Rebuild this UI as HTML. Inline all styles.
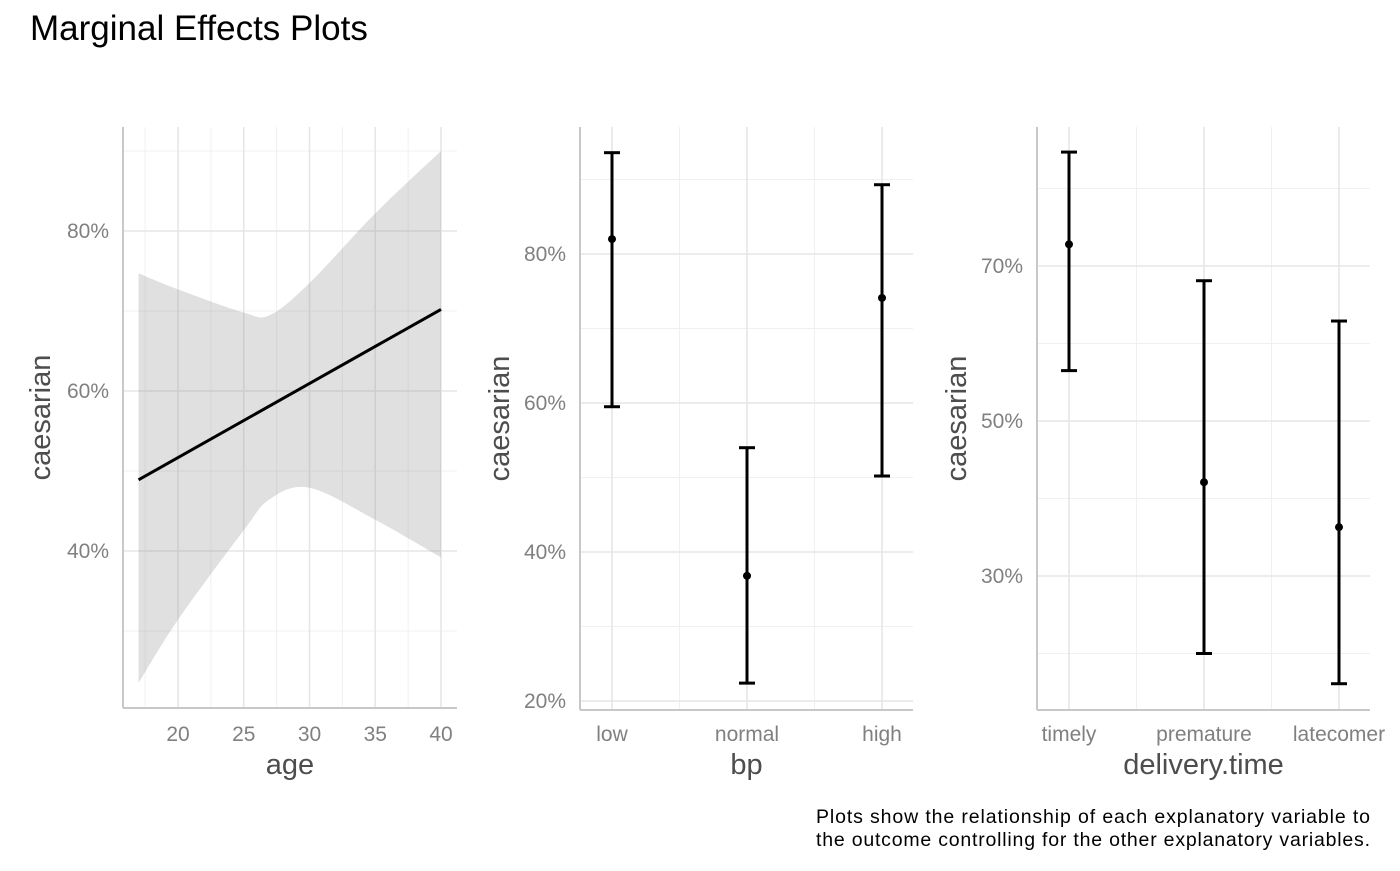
<!DOCTYPE html>
<html><head><meta charset="utf-8"><style>
body{margin:0;background:#fff;font-family:"Liberation Sans",sans-serif}
svg text{font-family:"Liberation Sans",sans-serif}
</style></head><body>
<svg width="1400" height="866" id="fig">
<text x="30" y="40" font-size="35" fill="#000">Marginal Effects Plots</text>
<text x="1370" y="823" font-size="19.5" text-anchor="end" fill="#000" textLength="554">Plots show the relationship of each explanatory variable to</text>
<text x="1370" y="846" font-size="19.5" text-anchor="end" fill="#000" textLength="554">the outcome controlling for the other explanatory variables.</text>
</svg>
<script>
// Panel 1: age (continuous)
const ageX=[17,20,25,27,30,35,40];
const ageUpper=[74.7,72.7,69.8,69.5,73.5,82.2,90.0];
const ageLower=[23.5,31.4,42.6,46.5,47.9,43.9,39.2];
const ageLineX=[17,40];
const ageLineY=[48.9,70.2];
const ageXTicks=[20,25,30,35,40];
const ageYTicks=[40,60,80];
// Panel 2: bp
const bpCats=["low","normal","high"];
const bpFit=[82.0,36.8,74.1];
const bpLow=[59.5,22.4,50.2];
const bpHigh=[93.6,54.0,89.3];
const bpYTicks=[20,40,60,80];
// Panel 3: delivery.time
const dtCats=["timely","premature","latecomer"];
const dtFit=[72.8,42.1,36.3];
const dtLow=[56.5,20.0,16.1];
const dtHigh=[84.7,68.1,62.9];
const dtYTicks=[30,50,70];

const TICK=21, TITLE=29;
const svg=document.getElementById('fig');
const NS='http://www.w3.org/2000/svg';
function mk(tag,attrs,parent){const e=document.createElementNS(NS,tag);for(const k in attrs)e.setAttribute(k,attrs[k]);(parent||svg).appendChild(e);return e;}
function line(x1,y1,x2,y2,stroke,w,p){return mk('line',{x1,y1,x2,y2,stroke,'stroke-width':w},p);}
function txt(x,y,s,size,fill,anchor,p){const t=mk('text',{x,y,'font-size':size,fill,'text-anchor':anchor},p);t.textContent=s;return t;}

// ---- Panel 1
(function(){
  const L=123,R=457,T=127,B=708;
  const xs=v=>178+(v-20)*(441-178)/20;
  const ys=v=>391-(v-60)*8;
  const g=mk('g',{});
  
  
  for(let v=17.5;v<=40;v+=5){line(xs(v),T,xs(v),B,'#f0f0f0',1,g);}
  for(const v of [30,50,70,90]){line(L,ys(v),R,ys(v),'#f0f0f0',1,g);}
  ageXTicks.forEach(v=>{line(xs(v),T,xs(v),B,'#e6e6e6',1.6,g);
    const t=txt(xs(v),741,String(v),TICK,'#808080','middle',g);
    
    });
  ageYTicks.forEach(v=>{line(L,ys(v),R,ys(v),'#e6e6e6',1.6,g);
    const t=txt(L-14,ys(v)+7,v+'%',TICK,'#808080','end',g);
    
    });
  function smooth(arr){let d='M'+arr[0][0]+','+arr[0][1];for(let i=0;i<arr.length-1;i++){const p0=arr[Math.max(0,i-1)],p1=arr[i],p2=arr[i+1],p3=arr[Math.min(arr.length-1,i+2)];
    d+=' C'+(p1[0]+(p2[0]-p0[0])/6)+','+(p1[1]+(p2[1]-p0[1])/6)+' '+(p2[0]-(p3[0]-p1[0])/6)+','+(p2[1]-(p3[1]-p1[1])/6)+' '+p2[0]+','+p2[1];}return d;}
  const up=ageX.map((x,i)=>[xs(x),ys(ageUpper[i])]);
  const lo=ageX.map((x,i)=>[xs(x),ys(ageLower[i])]).reverse();
  const d=smooth(up)+' L'+lo[0][0]+','+lo[0][1]+smooth(lo).replace(/^M[^ ]+/,'')+' Z';
  const band=mk('path',{d,fill:'#999','fill-opacity':0.3,stroke:'none'},g);
  
  
  const fl=line(xs(ageLineX[0]),ys(ageLineY[0]),xs(ageLineX[1]),ys(ageLineY[1]),'#000',3,g);
  
  
  line(L,T,L,B,'#c8c8c8',2,g);line(L,B,R,B,'#c8c8c8',2,g);
  const xt=txt((L+R)/2,774,'age',TITLE,'#4d4d4d','middle',g);
  
  
  const yt=txt(0,0,'caesarian',TITLE,'#4d4d4d','middle',g);
  yt.setAttribute('transform','translate(50,'+((T+B)/2)+') rotate(-90)');
  
  
})();

function catPanel(name,L,R,T,B,cats,fit,lo,hi,yTicks,y0v,y0,pxPer,minorY,xlabel,ytitleX){
  const g=mk('g',{});
  
  
  const step=135, x0=L+32;
  const xs=i=>x0+i*step;
  const ys=v=>y0-(v-y0v)*pxPer;
  for(let i=0;i<cats.length-1;i++)line(xs(i+0.5),T,xs(i+0.5),B,'#f0f0f0',1,g);
  minorY.forEach(v=>line(L,ys(v),R,ys(v),'#f0f0f0',1,g));
  yTicks.forEach(v=>{line(L,ys(v),R,ys(v),'#e6e6e6',1.6,g);
    const t=txt(L-14,ys(v)+7,v+'%',TICK,'#808080','end',g);
    
    });
  cats.forEach((c,i)=>{line(xs(i),T,xs(i),B,'#e6e6e6',1.6,g);
    const t=txt(xs(i),741,c,TICK,'#808080','middle',g);
    
    });
  cats.forEach((c,i)=>{
    const eg=mk('g',{},g);
    
    
    const x=xs(i);
    line(x,ys(hi[i]),x,ys(lo[i]),'#000',3,eg);
    line(x-8,ys(hi[i]),x+8,ys(hi[i]),'#000',3,eg);
    line(x-8,ys(lo[i]),x+8,ys(lo[i]),'#000',3,eg);
    mk('circle',{cx:x,cy:ys(fit[i]),r:4,fill:'#000'},eg);
  });
  line(L,T,L,B,'#c8c8c8',2,g);line(L,B,R,B,'#c8c8c8',2,g);
  const xt=txt((L+R)/2,774,xlabel,TITLE,'#4d4d4d','middle',g);
  
  
  const yt=txt(0,0,'caesarian',TITLE,'#4d4d4d','middle',g);
  yt.setAttribute('transform','translate('+ytitleX+','+((T+B)/2)+') rotate(-90)');
  
  
}
catPanel('bp',580,913,127,710,bpCats,bpFit,bpLow,bpHigh,bpYTicks,60,403,7.45,[30,50,70,90],'bp',509);
catPanel('delivery-time',1037,1370,127,710,dtCats,dtFit,dtLow,dtHigh,dtYTicks,50,421,7.75,[20,40,60,80],'delivery.time',966);
</script>
</body></html>
